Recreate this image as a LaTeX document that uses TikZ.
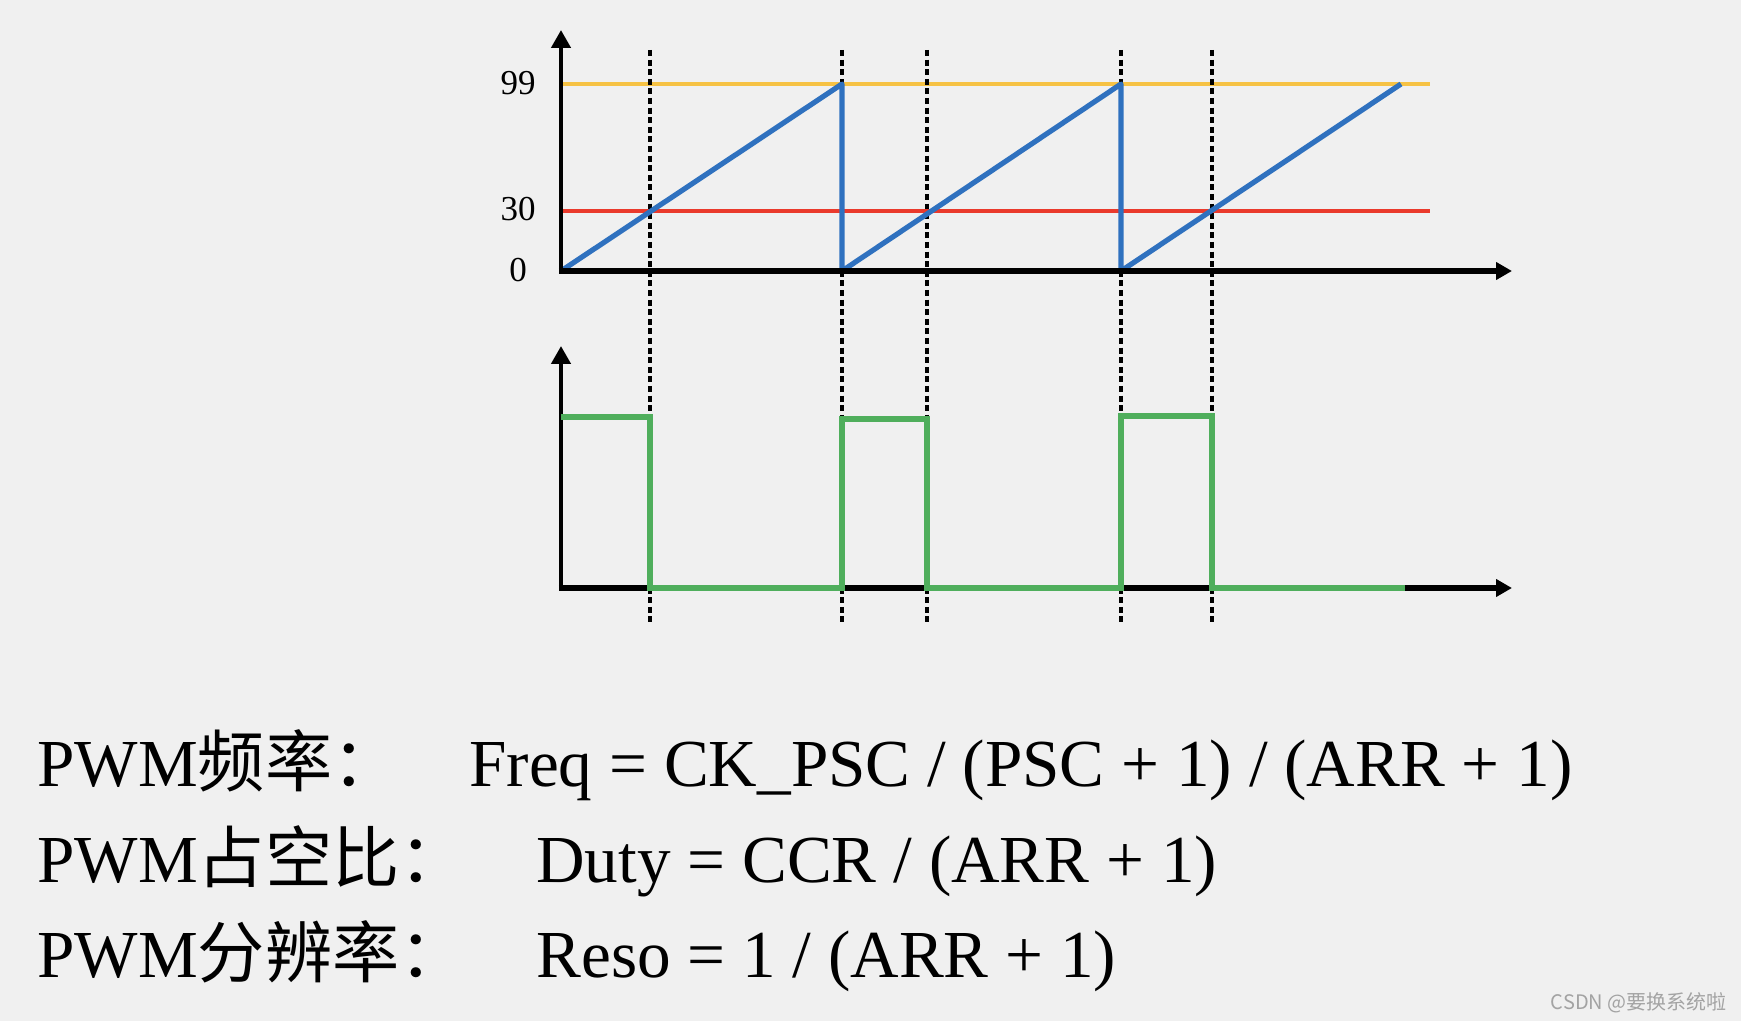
\documentclass[tikz,border=0pt]{standalone}
\usepackage{fontspec}
\setmainfont{Liberation Serif}
\newfontfamily\cjk{Noto Sans CJK SC}
\usetikzlibrary{arrows.meta}
\definecolor{bg}{HTML}{F0F0F0}
\definecolor{cyel}{HTML}{F6C244}
\definecolor{cred}{HTML}{EA3A2C}
\definecolor{cblue}{HTML}{2F71BF}
\definecolor{cgreen}{HTML}{4FAE5C}
\definecolor{wm}{HTML}{A3A3A3}
\begin{document}
\begin{tikzpicture}[x=0.5pt,y=-0.5pt,
  axisline/.style={line width=2.2pt,-{Triangle[length=9pt,width=9.5pt]}},
  haxis/.style={axisline,line width=2.6pt,-{Triangle[length=8pt,width=8.5pt]}},
  guide/.style={line width=1.8pt,dash pattern=on 3pt off 1.8pt},
  level/.style={line width=2.1pt},
  ramp/.style={line width=2.6pt,cblue,line join=round},
  pwm/.style={line width=2.6pt,cgreen},
  tick/.style={anchor=center,inner sep=0pt,font=\fontsize{17.5}{20}\selectfont},
  formula/.style={anchor=base west,inner sep=0pt,font=\fontsize{33.6}{40}\selectfont}]
\fill[bg] (0,0) rectangle (1741,1021);
\useasboundingbox (0,0) rectangle (1741,1021);
% reference levels
\draw[level,cyel] (561,84) -- (1430,84);
% dashed guides
\foreach \gx in {650,842,927,1121,1212}
  \draw[guide] (\gx,50) -- (\gx,622);
\draw[level,cred] (561,211) -- (1430,211);
% sawtooth
\draw[ramp] (561,271) -- (842,84) -- (842,271) -- (1121,84) -- (1121,271) -- (1401,84);
% upper axes
\coordinate (o1) at (561,271);
\coordinate (y1) at (561,30);
\coordinate (x1) at (1512,271);
\draw[axisline] (o1) -- (y1);
\draw[haxis] ([xshift=-1.1pt]o1) -- (x1);
% tick labels
\node[tick] (t99) at (518,83) {99};
\node[tick] (t30) at (518,209) {30};
\node[tick] (t0) at (518,270) {0};
% lower axes
\coordinate (o2) at (561,588);
\coordinate (y2) at (561,346);
\coordinate (x2) at (1512,588);
\draw[axisline] (o2) -- (y2);
\draw[haxis] ([xshift=-1.1pt]o2) -- (x2);
% PWM output
\draw[pwm] (561,417) -- (650,417) -- (650,588) -- (842,588) -- (842,419) -- (927,419) -- (927,588)
  -- (1121,588) -- (1121,416) -- (1212,416) -- (1212,588) -- (1405,588);
% formulas
\node[formula] (l1) at (37,786) {PWM{\cjk 频率：}};
\node[formula] (f1) at (469,786) {Freq = CK\_PSC / (PSC + 1) / (ARR + 1)};
\node[formula] (l2) at (37,882) {PWM{\cjk 占空比：}};
\node[formula] (f2) at (536,882) {Duty = CCR / (ARR + 1)};
\node[formula] (l3) at (37,977) {PWM{\cjk 分辨率：}};
\node[formula] (f3) at (536,977) {Reso = 1 / (ARR + 1)};
% watermark
\node[anchor=east,inner sep=0pt,text=wm,font=\cjk\fontsize{10}{12}\selectfont] (wmk) at (1727,1003) {CSDN @要换系统啦};
\end{tikzpicture}
\end{document}
